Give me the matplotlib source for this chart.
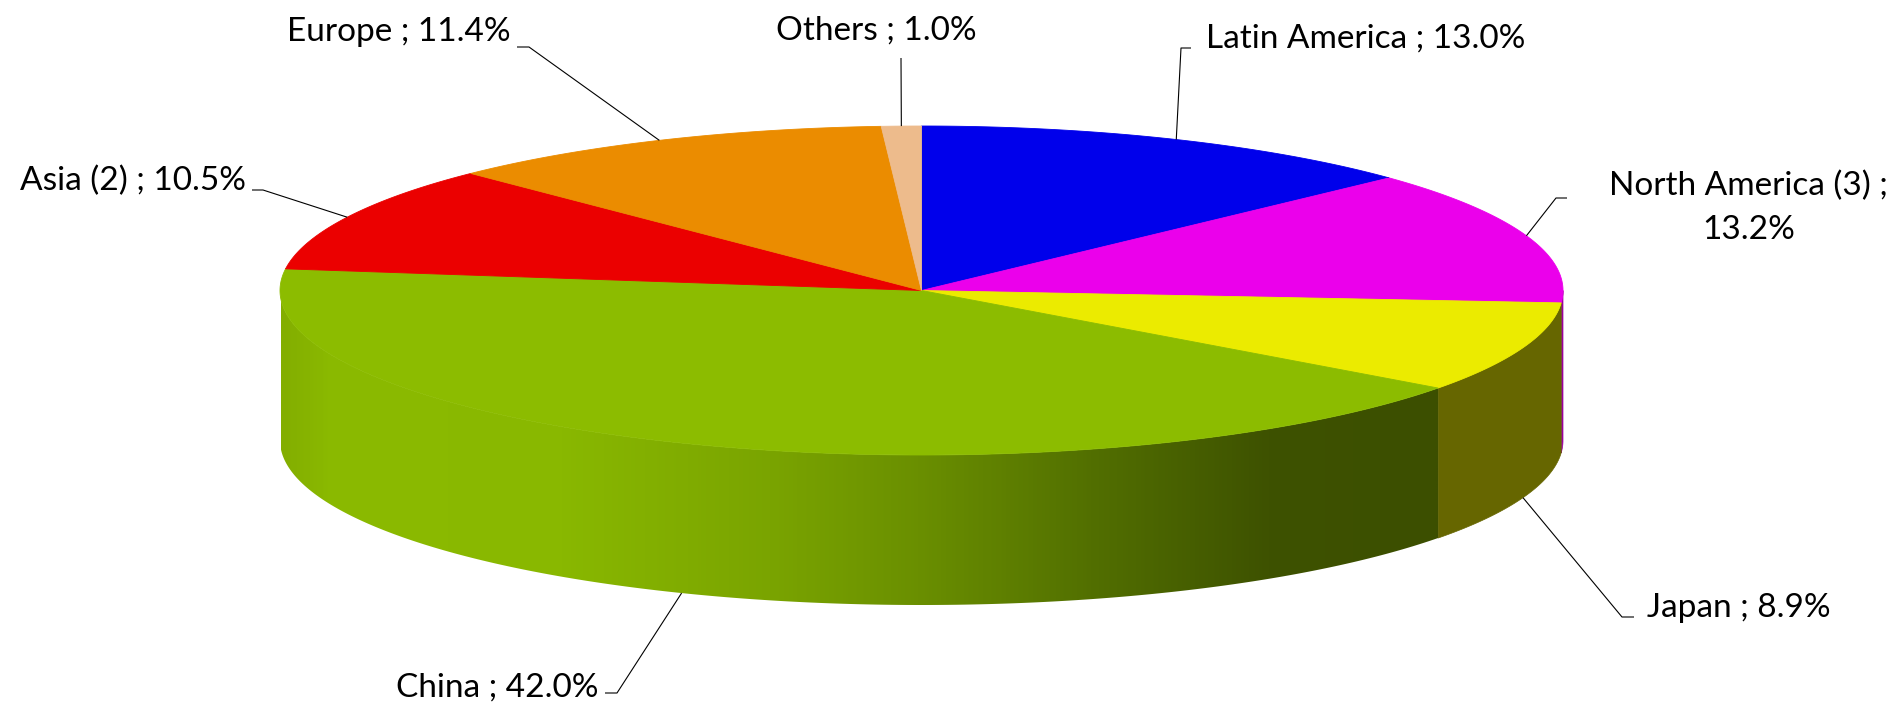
import numpy as np
import matplotlib
matplotlib.use("Agg")
import matplotlib.pyplot as plt
from matplotlib.patches import Polygon
from matplotlib.colors import LinearSegmentedColormap

# market share by region, clockwise from 12 o'clock
regions = ['Latin America', 'North America (3)', 'Japan', 'China', 'Asia (2)', 'Europe', 'Others']
shares = [13.0, 13.2, 8.9, 42.0, 10.5, 11.4, 1.0]
top_colors = ['#0000EB', '#EB00EB', '#EBEB00', '#8CBC00', '#EB0000', '#EB8C00', '#EDBB8C']
side_colors = ['#00009A', '#9A009A', '#666600', 'gradient', '#9A0000', '#9A5C00', '#A07A5A']

# label placement: (text x, baseline y, ha, elbow x, elbow y, stub end x)
label_pos = {
    'Latin America':     (1206, 48, 'left', 1181, 48, 1191),
    'North America (3)': (1888, 195, 'right', 1556, 198, 1567),
    'Japan':             (1647, 617, 'left', 1622, 617, 1634),
    'China':             (598, 697, 'right', 617, 693, 605),
    'Asia (2)':          (246, 190, 'right', 263, 190, 252),
    'Europe':            (511, 41, 'right', 529, 47, 517),
    'Others':            (876, 40, 'center', 901, 58, 901),
}
line_gap = 44  # baseline distance for wrapped labels

W, H = 1893, 706
fig = plt.figure(figsize=(W / 100, H / 100), dpi=100)
ax = fig.add_axes([0, 0, 1, 1])
ax.set_xlim(0, W)
ax.set_ylim(H, 0)
ax.axis('off')

cx, cy, rx, ry, depth = 921.5, 290.5, 641.5, 164.5, 150.0


def rim(t, dy=0.0):
    return cx + rx * np.sin(t), cy - ry * np.cos(t) + dy


frac = np.array(shares) / sum(shares)
edges = np.concatenate([[0], np.cumsum(frac)]) * 2 * np.pi

# green side gets a left-to-right shade
green_stops = [(281, '#83AE00'), (330, '#8BBA00'), (560, '#89B800'), (770, '#7AA400'),
               (920, '#6A8F00'), (1100, '#516E00'), (1270, '#3E5200'), (1440, '#3C4F00')]
gx0, gx1 = green_stops[0][0], green_stops[-1][0]
green_cmap = LinearSegmentedColormap.from_list(
    'side', [((x - gx0) / (gx1 - gx0), c) for x, c in green_stops])

# front walls
for i in range(len(shares)):
    a = max(edges[i], np.pi / 2)
    b = min(edges[i + 1], 3 * np.pi / 2)
    if a >= b:
        continue
    t = np.linspace(a, b, 200)
    xt, yt = rim(t)
    xb, yb = rim(t[::-1], depth)
    pts = np.column_stack([np.concatenate([xt, xb]), np.concatenate([yt, yb])])
    if side_colors[i] == 'gradient':
        wall = Polygon(pts, closed=True, facecolor='none', edgecolor='none', zorder=1)
        ax.add_patch(wall)
        img = ax.imshow(np.linspace(0, 1, 600)[None, :], cmap=green_cmap, aspect='auto',
                        extent=(gx0, gx1, cy + ry + depth + 5, cy - 5),
                        interpolation='bilinear', zorder=1)
        img.set_clip_path(wall)
    else:
        ax.add_patch(Polygon(pts, closed=True, facecolor=side_colors[i],
                             edgecolor=side_colors[i], lw=0.5, zorder=1))

# top face
for i in range(len(shares)):
    t = np.linspace(edges[i], edges[i + 1], 300)
    xs, ys = rim(t)
    pts = np.column_stack([np.concatenate([[cx], xs]), np.concatenate([[cy], ys])])
    ax.add_patch(Polygon(pts, closed=True, facecolor=top_colors[i],
                         edgecolor=top_colors[i], lw=0.6, zorder=2))

renderer = fig.canvas.get_renderer()

# labels with leader lines
for i, name in enumerate(regions):
    mid = (edges[i] + edges[i + 1]) / 2
    front = np.pi / 2 < mid < 3 * np.pi / 2
    axp, ayp = rim(mid, depth if front else 0.0)
    tx, ty, ha, ex, ey, sx = label_pos[name]
    ax.plot([axp, ex, sx], [ayp, ey, ey], color='black', lw=0.8, zorder=3,
            solid_capstyle='butt')
    if name == 'North America (3)':
        first = ax.text(tx, ty, f'{name} ;', ha=ha, va='baseline',
                        fontsize=24, family='Lato', color='black', zorder=4)
        bb = first.get_window_extent(renderer).transformed(ax.transData.inverted())
        ax.text((bb.x0 + bb.x1) / 2, ty + line_gap, f'{shares[i]:.1f}%', ha='center',
                va='baseline', fontsize=24, family='Lato', color='black', zorder=4)
    else:
        ax.text(tx, ty, f'{name} ; {shares[i]:.1f}%', ha=ha, va='baseline',
                fontsize=24, family='Lato', color='black', zorder=4)

fig.savefig('out.png', dpi=100, facecolor='white')
